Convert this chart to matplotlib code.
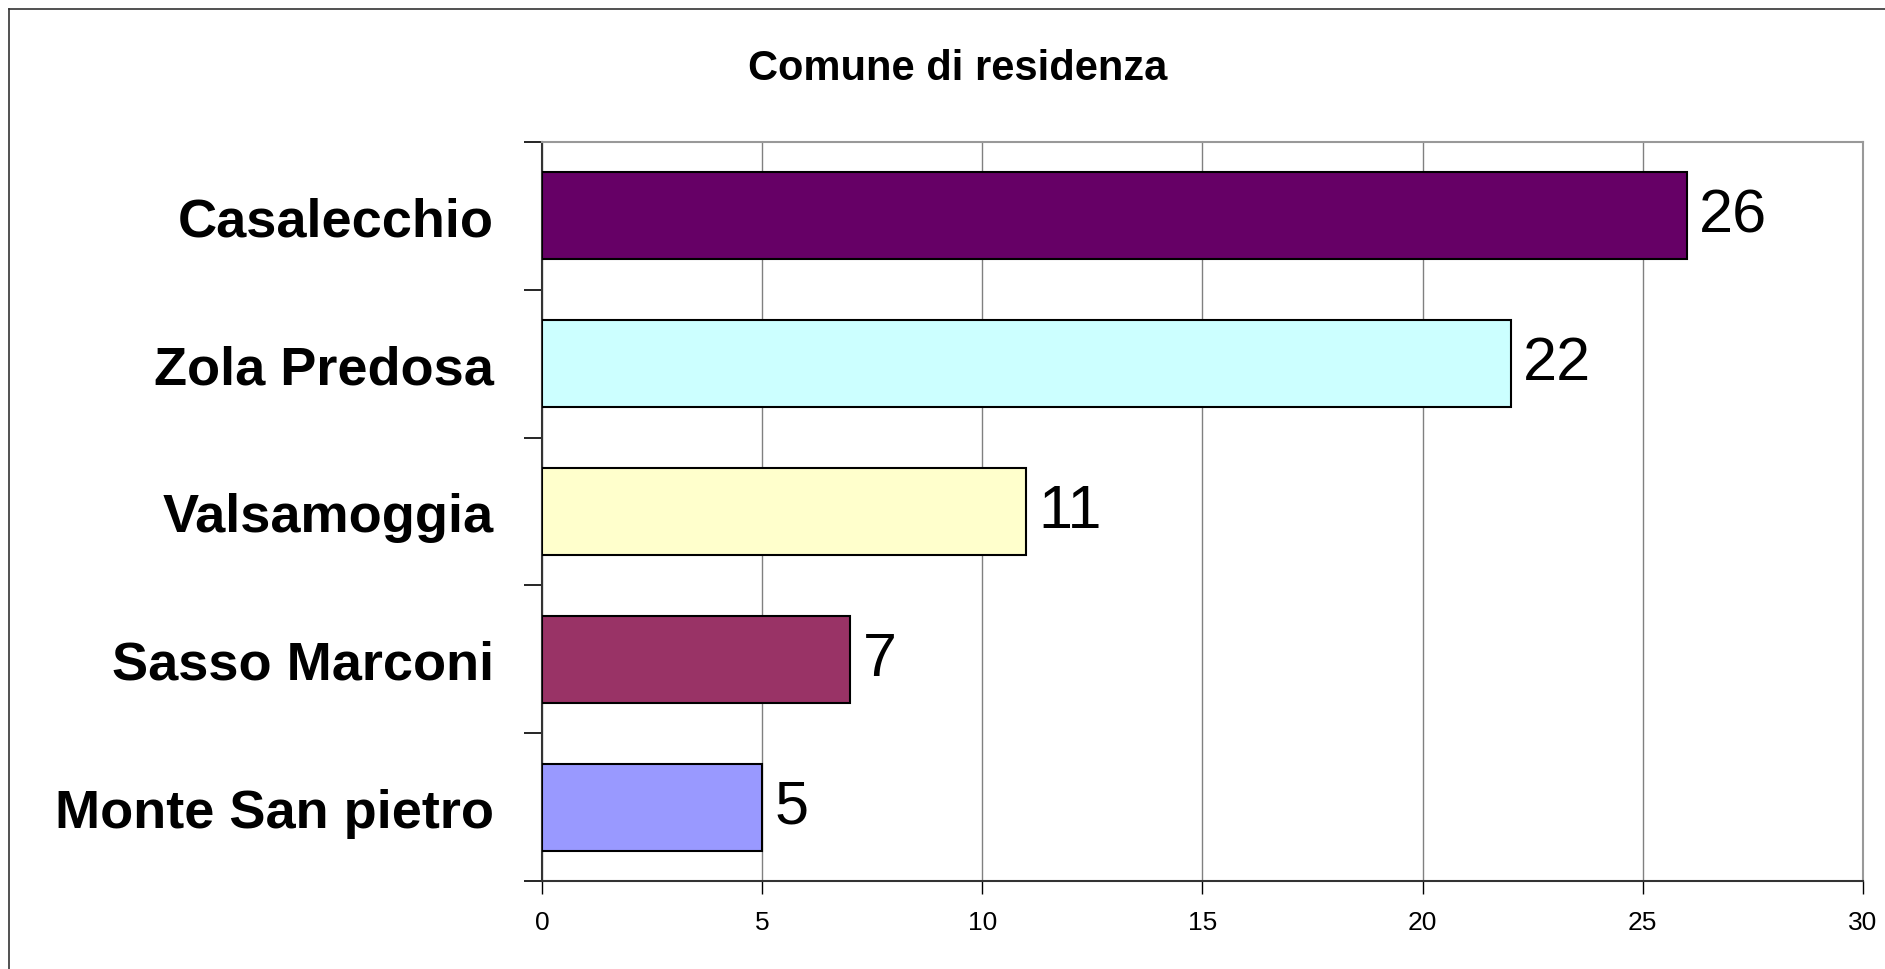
import matplotlib
matplotlib.use("Agg")
import matplotlib.pyplot as plt
from matplotlib.lines import Line2D

comuni = ["Casalecchio", "Zola Predosa", "Valsamoggia", "Sasso Marconi", "Monte San pietro"]
valori = [26, 22, 11, 7, 5]
colori = ["#660066", "#CCFFFF", "#FFFFCC", "#993366", "#9999FF"]
x_ticks = [0, 5, 10, 15, 20, 25, 30]

plt.rcParams["font.family"] = ["Liberation Sans", "DejaVu Sans"]

fig = plt.figure(figsize=(18.85, 9.70), dpi=100)
ax = fig.add_axes([0.2875, 0.0907, 0.7008, 0.7619])

pos = list(range(len(comuni)))
bars = ax.barh(pos, valori, height=0.59, color=colori, edgecolor="black", linewidth=1.5, zorder=3)
ax.set_ylim(len(comuni) - 0.5, -0.5)
ax.set_xlim(0, 30)

ax.set_yticks(pos)
ax.set_yticklabels(comuni, fontsize=39, fontweight="bold")
ax.set_yticks([p - 0.5 for p in pos] + [len(comuni) - 0.5], minor=True)
ax.tick_params(axis="y", which="major", length=0, pad=48 * 0.72)
ax.tick_params(axis="y", which="minor", length=13, width=1.2, color="black", direction="out")

ax.set_xticks(x_ticks)
ax.tick_params(axis="x", labelsize=19, length=9, width=1, color="black", pad=12)
ax.grid(axis="x", color="#808080", linewidth=1, zorder=0)

for side in ["top", "right"]:
    ax.spines[side].set_color("#999999")
    ax.spines[side].set_linewidth(1.5)
for side in ["left", "bottom"]:
    ax.spines[side].set_color("#333333")
    ax.spines[side].set_linewidth(1.5)

ax.bar_label(bars, padding=9, fontsize=44)

fig.text(0.508, 0.929, "Comune di residenza", ha="center", va="center", fontsize=30, fontweight="bold")

# cornice esterna (solo lati alto e sinistro visibili)
fig.add_artist(Line2D([0.0048, 1.0], [0.9897, 0.9897], transform=fig.transFigure, color="#333333", lw=1.2))
fig.add_artist(Line2D([0.0048, 0.0048], [0.0, 0.9897], transform=fig.transFigure, color="#333333", lw=1.2))

fig.savefig("out.png", dpi=100)
plt.close(fig)
